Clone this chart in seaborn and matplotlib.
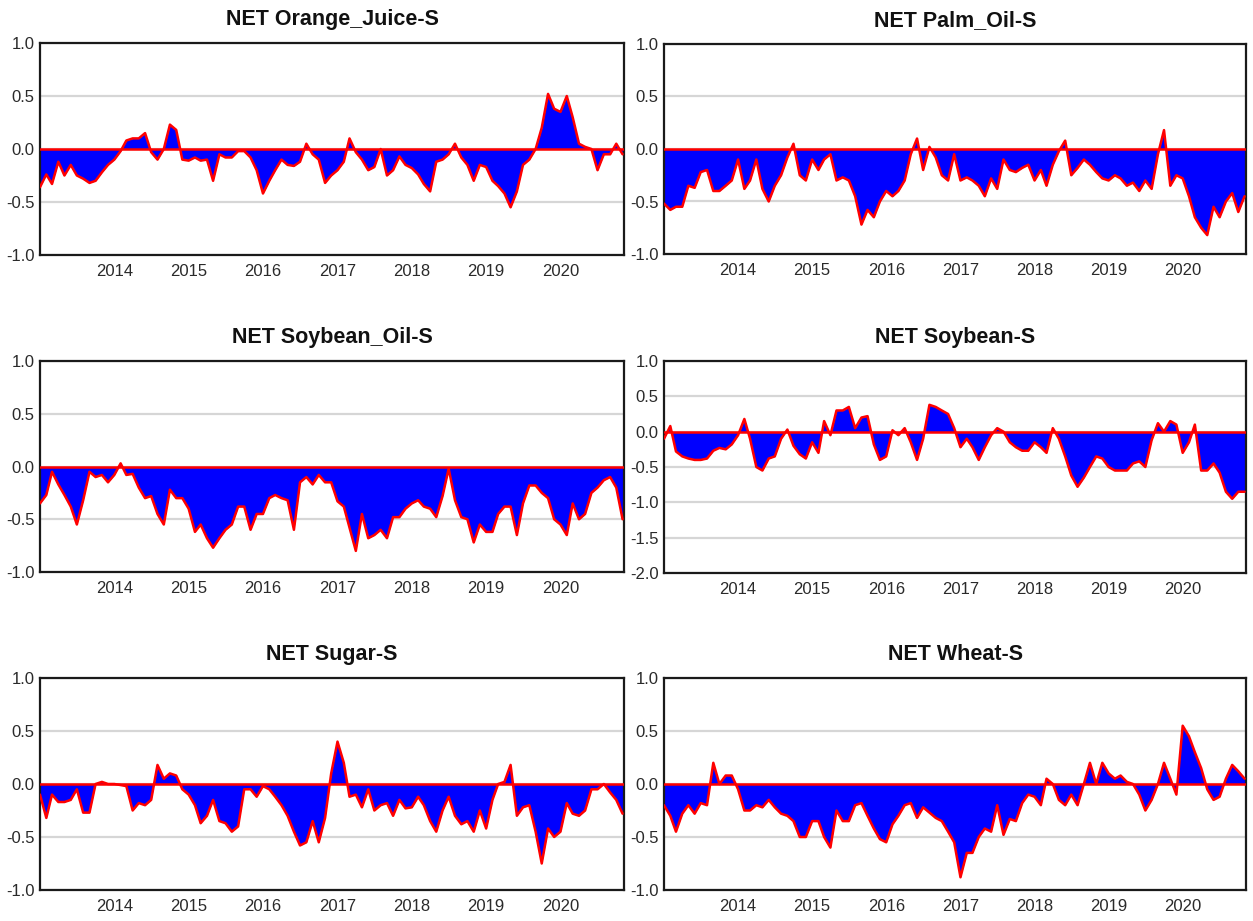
import numpy as np
import pandas as pd
import matplotlib
matplotlib.use("Agg")
import matplotlib.pyplot as plt
from matplotlib import font_manager
import seaborn as sns

# ---------------- data (monthly readings, Jan 2013 .. Nov 2020) ----------------
dates = pd.date_range("2013-01-01", "2020-11-01", freq="MS")

orange_juice = [
    -0.36, -0.24, -0.33, -0.12, -0.25, -0.15, -0.25, -0.28, -0.32, -0.30, -0.22, -0.15,
    -0.10, -0.02, 0.08, 0.10, 0.10, 0.15, -0.03, -0.10, 0.00, 0.23, 0.18, -0.10,
    -0.11, -0.08, -0.11, -0.10, -0.30, -0.05, -0.08, -0.08, -0.02, -0.02, -0.08, -0.20,
    -0.42, -0.30, -0.20, -0.10, -0.15, -0.16, -0.12, 0.05, -0.05, -0.10, -0.32, -0.25,
    -0.20, -0.12, 0.10, -0.03, -0.10, -0.20, -0.17, 0.00, -0.25, -0.20, -0.07, -0.15,
    -0.18, -0.24, -0.33, -0.40, -0.12, -0.10, -0.05, 0.05, -0.08, -0.15, -0.30, -0.15,
    -0.17, -0.30, -0.35, -0.42, -0.55, -0.40, -0.15, -0.10, 0.00, 0.20, 0.52, 0.38,
    0.35, 0.50, 0.30, 0.05, 0.02, 0.00, -0.20, -0.05, -0.05, 0.05, -0.05,
]
palm_oil = [
    -0.52, -0.58, -0.55, -0.55, -0.35, -0.37, -0.22, -0.20, -0.40, -0.40, -0.35, -0.30,
    -0.10, -0.38, -0.30, -0.10, -0.38, -0.50, -0.35, -0.25, -0.08, 0.05, -0.25, -0.30,
    -0.10, -0.20, -0.10, -0.05, -0.30, -0.27, -0.30, -0.45, -0.72, -0.58, -0.65, -0.50,
    -0.40, -0.45, -0.40, -0.30, -0.05, 0.10, -0.20, 0.02, -0.08, -0.25, -0.30, -0.05,
    -0.30, -0.27, -0.30, -0.35, -0.45, -0.28, -0.38, -0.10, -0.20, -0.22, -0.18, -0.15,
    -0.30, -0.20, -0.35, -0.15, -0.02, 0.08, -0.25, -0.18, -0.10, -0.15, -0.22, -0.28,
    -0.30, -0.25, -0.28, -0.35, -0.32, -0.40, -0.30, -0.38, -0.05, 0.18, -0.35, -0.25,
    -0.28, -0.45, -0.65, -0.75, -0.82, -0.55, -0.65, -0.50, -0.42, -0.60, -0.45,
]
soybean_oil = [
    -0.35, -0.27, -0.05, -0.17, -0.27, -0.38, -0.55, -0.32, -0.05, -0.10, -0.08, -0.15,
    -0.08, 0.03, -0.08, -0.07, -0.20, -0.30, -0.28, -0.45, -0.55, -0.22, -0.30, -0.30,
    -0.40, -0.62, -0.55, -0.68, -0.77, -0.68, -0.60, -0.55, -0.38, -0.38, -0.60, -0.45,
    -0.45, -0.30, -0.27, -0.30, -0.32, -0.60, -0.15, -0.10, -0.17, -0.08, -0.15, -0.15,
    -0.33, -0.38, -0.58, -0.80, -0.45, -0.68, -0.65, -0.60, -0.68, -0.48, -0.48, -0.40,
    -0.35, -0.32, -0.38, -0.40, -0.48, -0.28, -0.02, -0.32, -0.48, -0.50, -0.72, -0.55,
    -0.62, -0.62, -0.45, -0.38, -0.38, -0.65, -0.35, -0.18, -0.18, -0.25, -0.30, -0.50,
    -0.55, -0.65, -0.35, -0.50, -0.45, -0.25, -0.20, -0.13, -0.10, -0.20, -0.50,
]
soybean = [
    -0.10, 0.08, -0.28, -0.35, -0.38, -0.40, -0.40, -0.38, -0.27, -0.23, -0.25, -0.18,
    -0.05, 0.18, -0.10, -0.50, -0.55, -0.38, -0.35, -0.10, 0.03, -0.20, -0.32, -0.38,
    -0.15, -0.30, 0.15, -0.05, 0.30, 0.30, 0.35, 0.05, 0.20, 0.22, -0.18, -0.40,
    -0.35, 0.02, -0.05, 0.05, -0.15, -0.40, -0.10, 0.38, 0.35, 0.30, 0.25, 0.05,
    -0.22, -0.10, -0.22, -0.40, -0.22, -0.05, 0.05, 0.00, -0.15, -0.22, -0.27, -0.27,
    -0.15, -0.22, -0.30, 0.05, -0.10, -0.35, -0.62, -0.78, -0.65, -0.50, -0.35, -0.38,
    -0.50, -0.55, -0.55, -0.55, -0.45, -0.42, -0.50, -0.12, 0.12, 0.00, 0.15, 0.10,
    -0.30, -0.15, 0.10, -0.55, -0.55, -0.45, -0.58, -0.85, -0.95, -0.85, -0.85,
]
sugar = [
    -0.10, -0.32, -0.10, -0.17, -0.17, -0.15, -0.05, -0.27, -0.27, 0.00, 0.02, 0.00,
    0.00, -0.01, -0.02, -0.25, -0.18, -0.20, -0.15, 0.18, 0.05, 0.10, 0.08, -0.05,
    -0.10, -0.20, -0.37, -0.30, -0.15, -0.35, -0.37, -0.45, -0.40, -0.05, -0.05, -0.12,
    -0.02, -0.05, -0.12, -0.20, -0.30, -0.45, -0.58, -0.55, -0.35, -0.55, -0.32, 0.10,
    0.40, 0.20, -0.12, -0.10, -0.22, -0.05, -0.25, -0.20, -0.18, -0.30, -0.15, -0.23,
    -0.22, -0.12, -0.20, -0.35, -0.45, -0.25, -0.12, -0.30, -0.38, -0.35, -0.45, -0.25,
    -0.42, -0.15, 0.00, 0.02, 0.18, -0.30, -0.22, -0.20, -0.45, -0.75, -0.42, -0.50,
    -0.45, -0.18, -0.28, -0.30, -0.25, -0.05, -0.05, 0.00, -0.08, -0.15, -0.28,
]
wheat = [
    -0.20, -0.30, -0.45, -0.28, -0.20, -0.28, -0.18, -0.20, 0.20, 0.00, 0.08, 0.08,
    -0.05, -0.25, -0.25, -0.20, -0.22, -0.15, -0.22, -0.28, -0.30, -0.35, -0.50, -0.50,
    -0.35, -0.35, -0.50, -0.60, -0.25, -0.35, -0.35, -0.20, -0.18, -0.30, -0.42, -0.52,
    -0.55, -0.38, -0.30, -0.20, -0.18, -0.32, -0.22, -0.27, -0.32, -0.35, -0.45, -0.55,
    -0.88, -0.65, -0.65, -0.50, -0.42, -0.45, -0.20, -0.48, -0.33, -0.35, -0.18, -0.10,
    -0.12, -0.20, 0.05, 0.00, -0.15, -0.20, -0.10, -0.20, 0.00, 0.20, 0.00, 0.20,
    0.10, 0.05, 0.08, 0.02, 0.00, -0.10, -0.25, -0.15, 0.00, 0.20, 0.05, -0.10,
    0.55, 0.45, 0.30, 0.15, -0.05, -0.15, -0.12, 0.05, 0.18, 0.12, 0.05,
]

titles = ["NET Orange_Juice-S", "NET Palm_Oil-S", "NET Soybean_Oil-S",
          "NET Soybean-S", "NET Sugar-S", "NET Wheat-S"]
series = [orange_juice, palm_oil, soybean_oil, soybean, sugar, wheat]
y_ranges = [(-1.0, 1.0), (-1.0, 1.0), (-1.0, 1.0), (-2.0, 1.0), (-1.0, 1.0), (-1.0, 1.0)]
year_labels = ["2014", "2015", "2016", "2017", "2018", "2019", "2020"]

df = pd.DataFrame({"date": dates})
for t, s in zip(titles, series):
    df[t] = s

# ---------------- style ----------------
sns.set_style("white")
names = {f.name for f in font_manager.fontManager.ttflist}
narrow = "Liberation Sans Narrow" in names
if narrow:
    fam = ["Liberation Sans Narrow", "Liberation Sans", "DejaVu Sans"]
    tick_fs, title_fs = 14, 17
else:
    fam = ["Liberation Sans", "DejaVu Sans"]
    tick_fs, title_fs = 12, 15.5
plt.rcParams["font.family"] = fam
plt.rcParams["axes.unicode_minus"] = False

W, H = 1253, 921
fig = plt.figure(figsize=(W / 100, H / 100), dpi=100)
fig.patch.set_facecolor("white")

# axes boxes in pixels: left, top, right, bottom
boxes = [(40, 43, 624, 255), (664, 44, 1246, 254),
         (40, 361, 624, 572), (664, 361, 1246, 573),
         (40, 678, 624, 890), (664, 678, 1246, 890)]

text_color = "#2a2a2a"
for title, (l, t, r, b), (ylo, yhi) in zip(titles, boxes, y_ranges):
    ax = fig.add_axes([l / W, 1 - b / H, (r - l) / W, (b - t) / H])
    ax.fill_between(df["date"], 0, df[title], color="#0000ff", linewidth=0, zorder=2)
    sns.lineplot(data=df, x="date", y=title, ax=ax, color="#ff0000", linewidth=1.8, zorder=3)
    ax.axhline(0, color="#ff0000", linewidth=1.8, zorder=4)

    ax.set_xlim(pd.Timestamp("2013-01-01"), pd.Timestamp("2020-11-08"))
    ax.set_ylim(ylo, yhi)
    yt = np.arange(ylo, yhi + 0.01, 0.5)
    ax.set_yticks(yt)
    ax.set_yticklabels([f"{v:.1f}" for v in yt])
    ax.set_xticks([pd.Timestamp(f"{y}-01-01") for y in year_labels])
    ax.set_xticklabels(year_labels)

    ax.yaxis.grid(True, color="#d6d6d6", linewidth=1.6)
    ax.xaxis.grid(False)
    ax.set_axisbelow(True)
    ax.tick_params(axis="y", length=0, pad=4, labelsize=tick_fs, labelcolor=text_color)
    ax.tick_params(axis="x", direction="inout", length=5, width=1, color="#222222",
                   pad=4, labelsize=tick_fs, labelcolor=text_color)
    for sp in ax.spines.values():
        sp.set_visible(True)
        sp.set_color("#1a1a1a")
        sp.set_linewidth(1.6)
    ax.set_xlabel("")
    ax.set_ylabel("")
    ax.set_title(title, fontsize=title_fs, fontweight="bold", color="#111111", pad=13)

fig.savefig("out.png", dpi=100, facecolor="white")
